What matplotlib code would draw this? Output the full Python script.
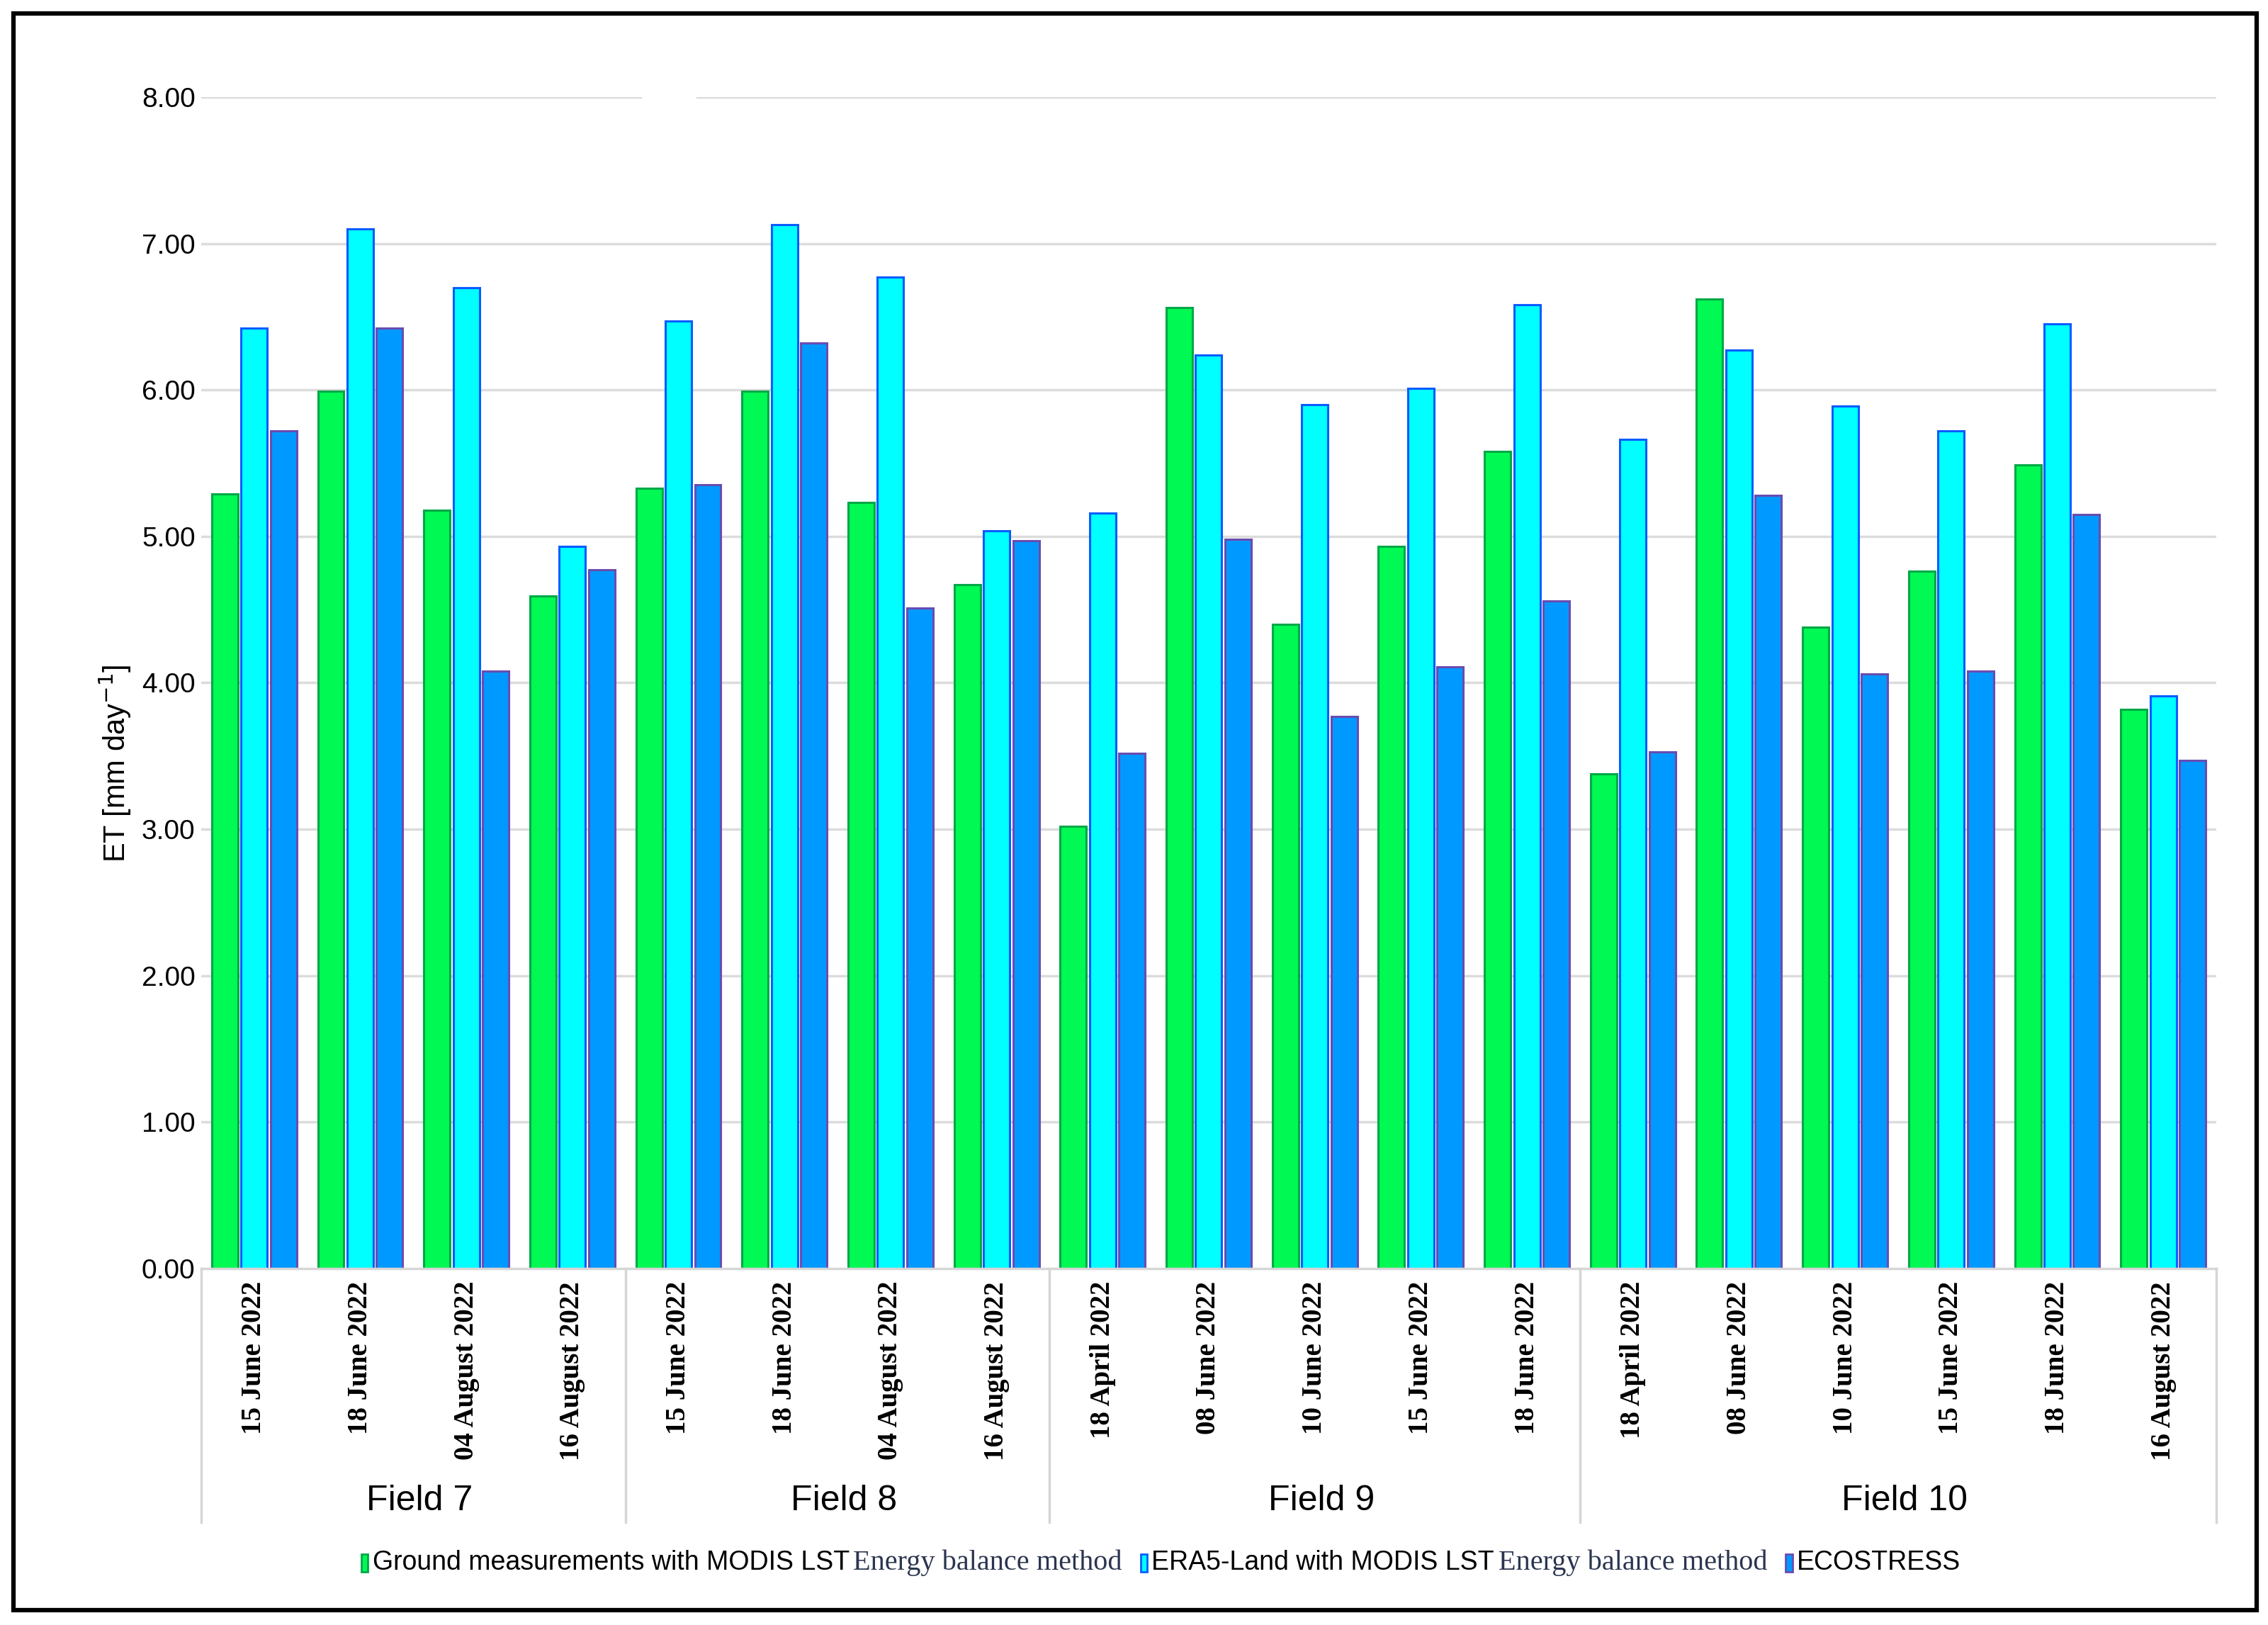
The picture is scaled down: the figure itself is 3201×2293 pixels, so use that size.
import numpy as np
import matplotlib
matplotlib.use("Agg")
import matplotlib.pyplot as plt
from matplotlib.patches import Rectangle
from matplotlib.offsetbox import HPacker, TextArea, DrawingArea, AnchoredOffsetbox

plt.rcParams['font.family'] = ['Liberation Sans', 'DejaVu Sans']

fields = ["Field 7", "Field 8", "Field 9", "Field 10"]
dates = [
	["15 June 2022", "18 June 2022", "04 August 2022", "16 August 2022"],
	["15 June 2022", "18 June 2022", "04 August 2022", "16 August 2022"],
	["18 April 2022", "08 June 2022", "10 June 2022", "15 June 2022", "18 June 2022"],
	["18 April 2022", "08 June 2022", "10 June 2022", "15 June 2022", "18 June 2022", "16 August 2022"],
]

# ET values [mm/day], in the order of the dates above
ground_modis = [5.29, 5.99, 5.18, 4.59,
				5.33, 5.99, 5.23, 4.67,
				3.02, 6.56, 4.40, 4.93, 5.58,
				3.38, 6.62, 4.38, 4.76, 5.49, 3.82]
era5_modis = [6.42, 7.10, 6.70, 4.93,
			  6.47, 7.13, 6.77, 5.04,
			  5.16, 6.24, 5.90, 6.01, 6.58,
			  5.66, 6.27, 5.89, 5.72, 6.45, 3.91]
ecostress = [5.72, 6.42, 4.08, 4.77,
			 5.35, 6.32, 4.51, 4.97,
			 3.52, 4.98, 3.77, 4.11, 4.56,
			 3.53, 5.28, 4.06, 4.08, 5.15, 3.47]

yticks = [0, 1, 2, 3, 4, 5, 6, 7, 8]

labels = [d for grp in dates for d in grp]
x = np.arange(len(labels))
w = 0.247
step = 0.277

fig = plt.figure(figsize=(32.01, 22.93), dpi=100)
ax = fig.add_axes([0.0887, 0.2194, 0.8885, 0.7209])

# gridlines (the 8.00 line has a small gap in the original)
for t in yticks[1:]:
	if t == 8:
		ax.axhline(t, xmin=0, xmax=0.218, color="#dcdcdc", lw=2.5, zorder=0)
		ax.axhline(t, xmin=0.246, xmax=1, color="#dcdcdc", lw=2.5, zorder=0)
	else:
		ax.axhline(t, color="#dcdcdc", lw=2.5, zorder=0)

ax.bar(x - step, ground_modis, w, color="#00f952", edgecolor="#00a847", linewidth=2.2, zorder=2)
ax.bar(x, era5_modis, w, color="#00ffff", edgecolor="#0a5cff", linewidth=2.2, zorder=2)
ax.bar(x + step, ecostress, w, color="#0099ff", edgecolor="#6a4cb0", linewidth=2.2, zorder=2)

ax.set_xlim(-0.5, len(labels) - 0.5)
ax.set_ylim(0, 8)
ax.set_yticks(yticks)
ax.set_yticklabels(["%.2f" % t for t in yticks])
ax.tick_params(axis="y", length=0, pad=6, labelsize=28)
ax.set_xticks(x)
ax.set_xticklabels(labels, rotation=90, fontfamily="Liberation Serif", fontweight="bold", fontsize=28)
ax.tick_params(axis="x", length=0, pad=13)
for s in ["top", "right", "left"]:
	ax.spines[s].set_visible(False)
ax.spines["bottom"].set_color("#d6d6d6")
ax.spines["bottom"].set_linewidth(2.5)

# group separators and field names under the dates
trans = ax.get_xaxis_transform()
start = 0
bounds = [-0.5]
for i in range(len(fields)):
	n = len(dates[i])
	bounds.append(start + n - 0.5)
	ax.text(start + (n - 1) / 2 + 0.06, -0.1985, fields[i], transform=trans, ha="center", va="center", fontsize=36)
	start += n
for b in bounds:
	ax.plot([b, b], [0, -0.2166], transform=trans, color="#d6d6d6", lw=2.5, clip_on=False)

fig.text(0.0509, 0.530, "ET [mm day$^{-1}$]", rotation=90, ha="center", va="center", fontsize=30)

# legend with mixed fonts
def marker(face, edge):
	da = DrawingArea(8, 19, 0, 0)
	da.add_artist(Rectangle((0.5, 0), 7, 18, facecolor=face, edgecolor=edge, lw=2))
	return da

sans = dict(fontsize=27, color="black", family="Liberation Sans")
serif = dict(fontsize=29, color="#2b3550", family="Liberation Serif")
items = [
	marker("#00f952", "#00a847"), TextArea("Ground measurements with MODIS LST", textprops=sans),
	TextArea("Energy balance method", textprops=serif),
	marker("#00ffff", "#0a5cff"), TextArea("ERA5-Land with MODIS LST", textprops=sans),
	TextArea("Energy balance method", textprops=serif),
	marker("#0099ff", "#6a4cb0"), TextArea("ECOSTRESS", textprops=sans),
]
row = HPacker(children=[
	HPacker(children=items[0:3], sep=4, align="center"),
	HPacker(children=items[3:6], sep=4, align="center"),
	HPacker(children=items[6:8], sep=4, align="center"),
], sep=18, align="center")
leg = AnchoredOffsetbox(loc="center", child=row, frameon=False,
	bbox_to_anchor=(0.5117, 0.0384), bbox_transform=fig.transFigure, borderpad=0, pad=0)
fig.add_artist(leg)

# black frame around the figure
fig.patches.append(Rectangle((0.00594, 0.00916), 0.98906, 0.98255, transform=fig.transFigure,
	fill=False, edgecolor="black", lw=4.5))

plt.savefig("out.png", dpi=100)
